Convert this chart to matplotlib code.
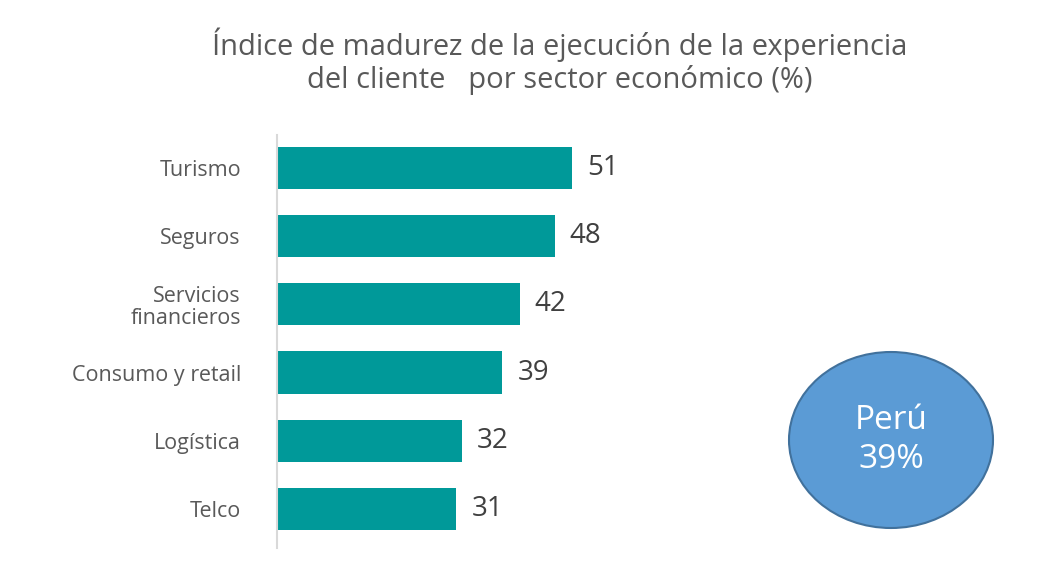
import matplotlib
matplotlib.use("Agg")
import matplotlib.pyplot as plt
from matplotlib.patches import Ellipse

categories = ["Turismo", "Seguros", "Servicios\nfinancieros", "Consumo y retail", "Logística", "Telco"]
values = [51, 48, 42, 39, 32, 31]
country_label = "Perú\n39%"

plt.rcParams["font.family"] = "Open Sans"
fig = plt.figure(figsize=(10.56, 5.74), dpi=100)
ax = fig.add_axes([277/1056, 1-548/574, 1-277/1056-0.015, (548-135)/574])
ypos = list(range(len(categories)))
ax.barh(ypos, values, height=0.62, color="#009999")
ax.set_ylim(5.57, -0.48)
ax.set_xlim(0, 132)
for y, v in zip(ypos, values):
    ax.text(v + 2.6, y, str(v), va="center", ha="left", fontsize=20, color="#404040")
ax.set_yticks(ypos)
ax.set_yticklabels(categories, fontsize=15.5, color="#595959", linespacing=1.1)
ax.tick_params(axis="y", length=0, pad=26)
ax.set_xticks([])
for s in ["top", "right", "bottom"]:
    ax.spines[s].set_visible(False)
ax.spines["left"].set_color("#D9D9D9")
ax.spines["left"].set_linewidth(1.5)

fig.text(560/1056, 1-45/574, "Índice de madurez de la ejecución de la experiencia",
         ha="center", va="center", fontsize=21, color="#595959")
fig.text(560/1056, 1-80/574, "del cliente   por sector económico (%)",
         ha="center", va="center", fontsize=21, color="#595959")

ell = Ellipse((891/1056, 1-440/574), 204/1056, 176/574, transform=fig.transFigure,
              facecolor="#5B9BD5", edgecolor="#41719C", linewidth=1.5)
fig.add_artist(ell)
fig.text(891/1056, 1-440/574, country_label, ha="center", va="center",
         fontsize=24, color="white", linespacing=1.25)

fig.savefig("out.png", dpi=100)
